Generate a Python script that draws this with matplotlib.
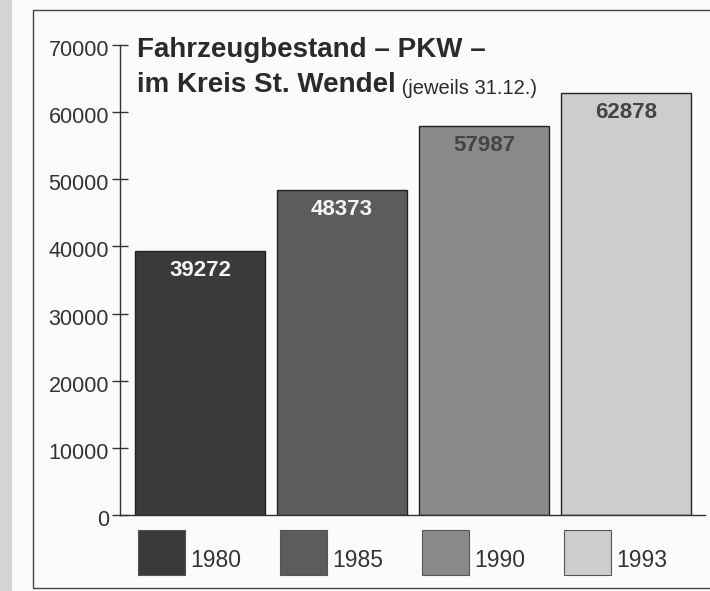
import matplotlib.pyplot as plt
from matplotlib.patches import Rectangle
from matplotlib.transforms import blended_transform_factory, ScaledTranslation

# Data
years = ['1980', '1985', '1990', '1993']
pkw = [39272, 48373, 57987, 62878]
bar_colors = ['#3a3a3a', '#5c5c5c', '#8a8a8a', '#cdcdcd']
label_colors = ['#f4f4f4', '#f4f4f4', '#444444', '#444444']
yticks = [0, 10000, 20000, 30000, 40000, 50000, 60000, 70000]

plt.rcParams['font.family'] = ['Liberation Sans', 'DejaVu Sans']

W, H = 710, 591
fig = plt.figure(figsize=(W / 100, H / 100), dpi=100)
fig.patch.set_facecolor('#fbfbfa')

# scan edge on the left and the printed frame
fig.add_artist(Rectangle((0, 0), 12 / W, 1, transform=fig.transFigure,
                         facecolor='#d4d4d4', edgecolor='none', zorder=-5))
fig.add_artist(Rectangle((33 / W, 1 - 588 / H), 700 / W, (588 - 10) / H,
                         transform=fig.transFigure, facecolor='none',
                         edgecolor='#444444', linewidth=1.0, zorder=-5))

ax = fig.add_axes([120 / W, 1 - 515 / H, (705 - 120) / W, (515 - 45) / H])
ax.set_facecolor('none')

x = list(range(len(years)))
bars = ax.bar(x, pkw, width=0.915, color=bar_colors, edgecolor='#222222',
              linewidth=1.0, zorder=2)

for b, v, c in zip(bars, pkw, label_colors):
    ax.annotate(str(v), (b.get_x() + b.get_width() / 2, v),
                xytext=(0, -14), textcoords='offset points',
                ha='center', va='center', fontsize=16, fontweight='bold',
                color=c, zorder=3)

ax.set_xlim(-0.563, 3.556)
ax.set_ylim(0, 70000)
ax.set_yticks(yticks)
ax.set_yticklabels([str(t) for t in yticks], fontsize=15.5, color='#333333')
ax.set_xticks([])
for s in ['top', 'right']:
    ax.spines[s].set_visible(False)
for s in ['left', 'bottom']:
    ax.spines[s].set_color('#333333')
    ax.spines[s].set_linewidth(1.0)
ax.tick_params(axis='y', direction='inout', length=12, width=1.0,
               color='#333333', pad=2)
shift = ScaledTranslation(0, -3 / 100, fig.dpi_scale_trans)
for lab in ax.get_yticklabels():
    lab.set_transform(lab.get_transform() + shift)

# title
ax.text(0.029, 0.9745, 'Fahrzeugbestand – PKW –', transform=ax.transAxes,
        fontsize=20, fontweight='bold', color='#2a2a2a', va='baseline',
        ha='left')
t2 = ax.text(0.029, 0.90, 'im Kreis St. Wendel', transform=ax.transAxes,
             fontsize=20, fontweight='bold', color='#2a2a2a',
             va='baseline', ha='left')
ax.annotate(' (jeweils 31.12.)', xycoords=t2, xy=(1, 0), va='bottom',
            ha='left', fontsize=14.5, color='#2a2a2a')

# legend squares below each bar
tr = blended_transform_factory(ax.transData, ax.transAxes)
for i, (yr, col) in enumerate(zip(years, bar_colors)):
    left = i - 0.915 / 2
    ax.add_patch(Rectangle((left + 0.02, -0.128), 0.33, 0.096, transform=tr,
                           facecolor=col, edgecolor='#555555', linewidth=0.8,
                           clip_on=False))
    ax.text(left + 0.39, -0.096, yr, transform=tr, fontsize=16.5,
            color='#333333', ha='left', va='center')

fig.savefig('out.png', dpi=100, facecolor=fig.get_facecolor())
